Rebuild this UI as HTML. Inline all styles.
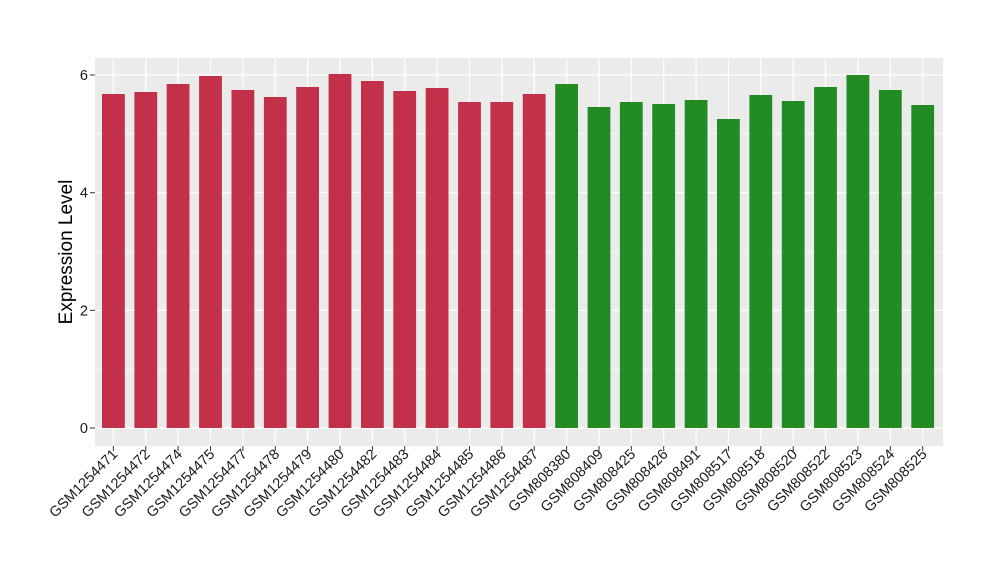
<!DOCTYPE html>
<html><head><style>body{margin:0;background:#fff}svg{display:block}</style></head><body>
<svg width="1000" height="580" xmlns="http://www.w3.org/2000/svg" font-family="Liberation Sans, sans-serif">
<rect x="95" y="58" width="848" height="388" fill="#EBEBEB"/>
<g stroke="#fff" stroke-width="0.6">
<line x1="95" x2="943" y1="369.2" y2="369.2"/><line x1="95" x2="943" y1="251.5" y2="251.5"/><line x1="95" x2="943" y1="133.8" y2="133.8"/>
</g>
<g stroke="#fff" stroke-width="1.2">
<line x1="95" x2="943" y1="428" y2="428"/><line x1="95" x2="943" y1="310.3" y2="310.3"/><line x1="95" x2="943" y1="192.7" y2="192.7"/><line x1="95" x2="943" y1="75" y2="75"/>
<line x1="113.4" x2="113.4" y1="58" y2="446"/><line x1="145.8" x2="145.8" y1="58" y2="446"/><line x1="178.1" x2="178.1" y1="58" y2="446"/><line x1="210.5" x2="210.5" y1="58" y2="446"/><line x1="242.9" x2="242.9" y1="58" y2="446"/><line x1="275.3" x2="275.3" y1="58" y2="446"/><line x1="307.6" x2="307.6" y1="58" y2="446"/><line x1="340" x2="340" y1="58" y2="446"/><line x1="372.4" x2="372.4" y1="58" y2="446"/><line x1="404.7" x2="404.7" y1="58" y2="446"/><line x1="437.1" x2="437.1" y1="58" y2="446"/><line x1="469.5" x2="469.5" y1="58" y2="446"/><line x1="501.8" x2="501.8" y1="58" y2="446"/><line x1="534.2" x2="534.2" y1="58" y2="446"/><line x1="566.6" x2="566.6" y1="58" y2="446"/><line x1="599" x2="599" y1="58" y2="446"/><line x1="631.3" x2="631.3" y1="58" y2="446"/><line x1="663.7" x2="663.7" y1="58" y2="446"/><line x1="696.1" x2="696.1" y1="58" y2="446"/><line x1="728.4" x2="728.4" y1="58" y2="446"/><line x1="760.8" x2="760.8" y1="58" y2="446"/><line x1="793.2" x2="793.2" y1="58" y2="446"/><line x1="825.5" x2="825.5" y1="58" y2="446"/><line x1="857.9" x2="857.9" y1="58" y2="446"/><line x1="890.3" x2="890.3" y1="58" y2="446"/><line x1="922.7" x2="922.7" y1="58" y2="446"/>
</g>
<g fill="#C3304A">
<rect x="102" y="94" width="22.8" height="334"/><rect x="134.4" y="92" width="22.8" height="336"/><rect x="166.7" y="84" width="22.8" height="344"/><rect x="199.1" y="76" width="22.8" height="352"/><rect x="231.5" y="90" width="22.8" height="338"/><rect x="263.9" y="97" width="22.8" height="331"/><rect x="296.2" y="87" width="22.8" height="341"/><rect x="328.6" y="74" width="22.8" height="354"/><rect x="361" y="81" width="22.8" height="347"/><rect x="393.3" y="91" width="22.8" height="337"/><rect x="425.7" y="88" width="22.8" height="340"/><rect x="458.1" y="102" width="22.8" height="326"/><rect x="490.4" y="102" width="22.8" height="326"/><rect x="522.8" y="94" width="22.8" height="334"/>
</g>
<g fill="#228B22">
<rect x="555.2" y="84" width="22.8" height="344"/><rect x="587.6" y="107" width="22.8" height="321"/><rect x="619.9" y="102" width="22.8" height="326"/><rect x="652.3" y="104" width="22.8" height="324"/><rect x="684.7" y="100" width="22.8" height="328"/><rect x="717" y="119" width="22.8" height="309"/><rect x="749.4" y="95" width="22.8" height="333"/><rect x="781.8" y="101" width="22.8" height="327"/><rect x="814.1" y="87" width="22.8" height="341"/><rect x="846.5" y="75" width="22.8" height="353"/><rect x="878.9" y="90" width="22.8" height="338"/><rect x="911.3" y="105" width="22.8" height="323"/>
</g>
<g font-size="14.5" fill="#1a1a1a" text-anchor="end">
<text x="88" y="433">0</text><text x="88" y="315.3">2</text><text x="88" y="197.7">4</text><text x="88" y="80">6</text>
</g>
<g stroke="#333" stroke-width="1">
<line x1="90" x2="95" y1="428" y2="428"/><line x1="90" x2="95" y1="310.3" y2="310.3"/><line x1="90" x2="95" y1="192.7" y2="192.7"/><line x1="90" x2="95" y1="75" y2="75"/>
<line x1="113.4" x2="113.4" y1="446" y2="451"/><line x1="145.8" x2="145.8" y1="446" y2="451"/><line x1="178.1" x2="178.1" y1="446" y2="451"/><line x1="210.5" x2="210.5" y1="446" y2="451"/><line x1="242.9" x2="242.9" y1="446" y2="451"/><line x1="275.3" x2="275.3" y1="446" y2="451"/><line x1="307.6" x2="307.6" y1="446" y2="451"/><line x1="340" x2="340" y1="446" y2="451"/><line x1="372.4" x2="372.4" y1="446" y2="451"/><line x1="404.7" x2="404.7" y1="446" y2="451"/><line x1="437.1" x2="437.1" y1="446" y2="451"/><line x1="469.5" x2="469.5" y1="446" y2="451"/><line x1="501.8" x2="501.8" y1="446" y2="451"/><line x1="534.2" x2="534.2" y1="446" y2="451"/><line x1="566.6" x2="566.6" y1="446" y2="451"/><line x1="599" x2="599" y1="446" y2="451"/><line x1="631.3" x2="631.3" y1="446" y2="451"/><line x1="663.7" x2="663.7" y1="446" y2="451"/><line x1="696.1" x2="696.1" y1="446" y2="451"/><line x1="728.4" x2="728.4" y1="446" y2="451"/><line x1="760.8" x2="760.8" y1="446" y2="451"/><line x1="793.2" x2="793.2" y1="446" y2="451"/><line x1="825.5" x2="825.5" y1="446" y2="451"/><line x1="857.9" x2="857.9" y1="446" y2="451"/><line x1="890.3" x2="890.3" y1="446" y2="451"/><line x1="922.7" x2="922.7" y1="446" y2="451"/>
</g>
<text transform="translate(72,252) rotate(-90)" font-size="19" text-anchor="middle" fill="#000">Expression Level</text>
<g font-size="14.5" fill="#1a1a1a" text-anchor="end">
<text transform="translate(118.4,455) rotate(-45)">GSM1254471</text>
<text transform="translate(150.8,455) rotate(-45)">GSM1254472</text>
<text transform="translate(183.1,455) rotate(-45)">GSM1254474</text>
<text transform="translate(215.5,455) rotate(-45)">GSM1254475</text>
<text transform="translate(247.9,455) rotate(-45)">GSM1254477</text>
<text transform="translate(280.3,455) rotate(-45)">GSM1254478</text>
<text transform="translate(312.6,455) rotate(-45)">GSM1254479</text>
<text transform="translate(345,455) rotate(-45)">GSM1254480</text>
<text transform="translate(377.4,455) rotate(-45)">GSM1254482</text>
<text transform="translate(409.7,455) rotate(-45)">GSM1254483</text>
<text transform="translate(442.1,455) rotate(-45)">GSM1254484</text>
<text transform="translate(474.5,455) rotate(-45)">GSM1254485</text>
<text transform="translate(506.8,455) rotate(-45)">GSM1254486</text>
<text transform="translate(539.2,455) rotate(-45)">GSM1254487</text>
<text transform="translate(571.6,455) rotate(-45)">GSM808380</text>
<text transform="translate(604,455) rotate(-45)">GSM808409</text>
<text transform="translate(636.3,455) rotate(-45)">GSM808425</text>
<text transform="translate(668.7,455) rotate(-45)">GSM808426</text>
<text transform="translate(701.1,455) rotate(-45)">GSM808491</text>
<text transform="translate(733.4,455) rotate(-45)">GSM808517</text>
<text transform="translate(765.8,455) rotate(-45)">GSM808518</text>
<text transform="translate(798.2,455) rotate(-45)">GSM808520</text>
<text transform="translate(830.5,455) rotate(-45)">GSM808522</text>
<text transform="translate(862.9,455) rotate(-45)">GSM808523</text>
<text transform="translate(895.3,455) rotate(-45)">GSM808524</text>
<text transform="translate(927.7,455) rotate(-45)">GSM808525</text>
</g>
</svg>
</body></html>
